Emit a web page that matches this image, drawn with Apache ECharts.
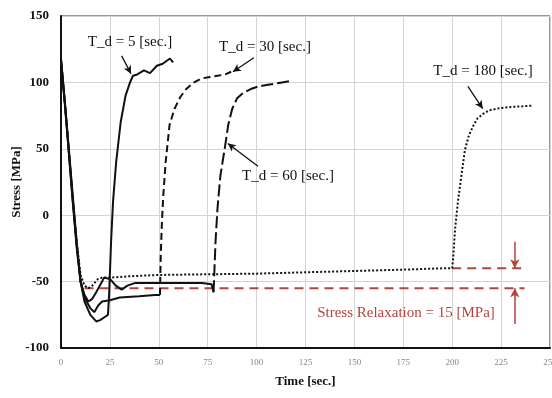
<!DOCTYPE html>
<html>
<head>
<meta charset="utf-8">
<script src="https://cdn.jsdelivr.net/npm/echarts@6/dist/echarts.min.js"></script>
<style>
    html, body { margin: 0; background: #fff; }
    #main { width: 552px; height: 398px; }
</style>
</head>
<body>
<div id="main"></div>
<script>
// time [s], stress [MPa]
const td5 = [[0, 118], [2, 85], [4, 50], [6, 15], [8, -20], [10, -50], [12, -65], [15, -75], [18, -80], [20, -79],
    [22, -77], [24, -75], [24.6, -60], [25.6, -20], [26.6, 10], [28.2, 40], [30.5, 70], [33, 90], [35.3, 100],
    [36.8, 105], [39, 106], [42.4, 109], [45.5, 107], [49, 112.5], [52, 114], [55.7, 118], [57.3, 115]];
const td30Hold = [[0, 117], [2, 84], [4, 48], [6, 12], [8, -22], [10, -50], [12, -62], [15, -70], [17, -73],
    [19, -68], [21, -65], [25, -64], [30, -62], [40, -61], [48, -60], [50.6, -60]];
const td30Rise = [[50.6, -60], [51, -30], [51.6, -5], [52.3, 15], [53.5, 40], [55.5, 68], [58, 80], [61, 89],
    [64, 95], [68, 100], [72, 103], [76, 104], [80, 105], [84, 106], [87, 108]];
const td60Hold = [[0, 116], [2, 83], [4, 47], [6, 10], [8, -24], [10, -50], [12, -60], [14, -65], [16, -63],
    [18, -58], [21, -50], [22, -47], [25, -48], [28, -53], [31, -56], [34, -53], [38, -51], [45, -51], [55, -51],
    [65, -51], [72, -51], [77, -52], [78, -58]];
const td60Rise = [[78, -58], [79, -20], [80, 5], [81.5, 30], [83.8, 51], [85.5, 68], [87.5, 80], [90, 88],
    [93, 92], [97, 95], [101, 97], [105, 98], [109, 99], [113, 100], [117, 101]];
const td180 = [[0, 117], [2, 84], [4, 48], [6, 12], [8, -20], [10, -45], [12, -53], [14, -55], [16, -53],
    [19, -48], [21, -47], [25, -47], [35, -46], [50, -45], [75, -44.5], [100, -44], [125, -43], [150, -42],
    [175, -41], [195, -40], [200, -40], [200.5, -32], [201.5, -10], [203, 11], [204.7, 30], [206.5, 49],
    [208.5, 60], [211, 68], [213, 73], [216, 76.5], [219, 79], [224, 80.5], [230, 81.5], [236, 82], [241, 82.5]];
const relaxUpper = [[200, -40], [237, -40]];
const relaxLower = [[12, -55], [237, -55]];
const relaxArrowX = 232;

const xTicks = {min: 0, max: 250, step: 25};
const yTicks = {min: -100, max: 150, step: 50};

const serif = '"Liberation Serif", "DejaVu Serif", serif';
const red = '#b5453c';

const chart = echarts.init(document.getElementById('main'));

function curve(data, type) {
    return {
        type: 'line', data: data, symbol: 'none', silent: true, animation: false,
        lineStyle: {color: '#111', width: 2, type: type}
    };
}

function arrow(from, to, color) {
    return [{coord: from}, {coord: to, lineStyle: {color: color}}];
}

function note(text, x, y, color) {
    return {
        type: 'text', x: x, y: y, z: 100, silent: true,
        style: {text: text, font: '15px ' + serif, fill: color || '#111', align: 'center', verticalAlign: 'middle'}
    };
}

chart.setOption({
    animation: false,
    grid: {left: 61, right: 2, top: 16, bottom: 50, show: true, borderColor: '#333', borderWidth: 1,
        outerBoundsMode: 'none'},
    xAxis: {
        type: 'value', min: xTicks.min, max: xTicks.max, interval: xTicks.step,
        name: 'Time [sec.]', nameLocation: 'middle', nameGap: 27,
        nameTextStyle: {fontFamily: serif, fontWeight: 'bold', fontSize: 13, color: '#111'},
        axisLine: {onZero: false, lineStyle: {color: '#111', width: 2}},
        axisTick: {show: false},
        axisLabel: {fontSize: 9, color: '#888', fontFamily: serif, margin: 10},
        splitLine: {lineStyle: {color: '#d4d4d4'}}
    },
    yAxis: {
        type: 'value', min: yTicks.min, max: yTicks.max, interval: yTicks.step,
        name: 'Stress [MPa]', nameLocation: 'middle', nameGap: 38, nameMoveOverlap: false,
        nameTextStyle: {fontFamily: serif, fontWeight: 'bold', fontSize: 13, color: '#111'},
        axisLine: {show: true, onZero: false, lineStyle: {color: '#111', width: 2}},
        axisTick: {show: false},
        axisLabel: {fontSize: 13, fontWeight: 'bold', color: '#111', fontFamily: serif, margin: 12},
        splitLine: {lineStyle: {color: '#d4d4d4'}}
    },
    series: [
        {
            type: 'line', data: relaxLower, symbol: 'none', silent: true,
            lineStyle: {color: red, width: 2, type: [9, 6]}
        },
        {
            type: 'line', data: relaxUpper, symbol: 'none', silent: true,
            lineStyle: {color: red, width: 2, type: [9, 6]},
            markLine: {
                silent: true, symbol: ['none', 'arrow'], symbolSize: [7, 9], label: {show: false},
                lineStyle: {color: red, width: 1.5, type: 'solid'},
                data: [
                    arrow([relaxArrowX, -20], [relaxArrowX, -40], red),
                    arrow([relaxArrowX, -82], [relaxArrowX, -55], red)
                ]
            }
        },
        curve(td5, 'solid'),
        curve(td30Hold, 'solid'),
        curve(td30Rise, [7, 4]),
        curve(td60Hold, 'solid'),
        curve(td60Rise, [12, 4]),
        Object.assign(curve(td180, [2, 2]), {
            markLine: {
                silent: true, symbol: ['none', 'arrow'], symbolSize: [6, 8], label: {show: false},
                lineStyle: {color: '#111', width: 1.3, type: 'solid'},
                data: [
                    arrow([31, 120], [35.8, 106.5], '#111'),
                    arrow([98.6, 118.5], [87.9, 108], '#111'),
                    arrow([100.7, 36.8], [85.3, 54], '#111'),
                    arrow([208, 97], [215.6, 80.3], '#111')
                ]
            }
        })
    ],
    graphic: [
        note('T_d = 5 [sec.]', 130, 42),
        note('T_d = 30 [sec.]', 265, 47),
        note('T_d = 60 [sec.]', 288, 176),
        note('T_d = 180 [sec.]', 483, 71),
        note('Stress Relaxation = 15 [MPa]', 406, 313, red)
    ]
});
</script>
</body>
</html>
